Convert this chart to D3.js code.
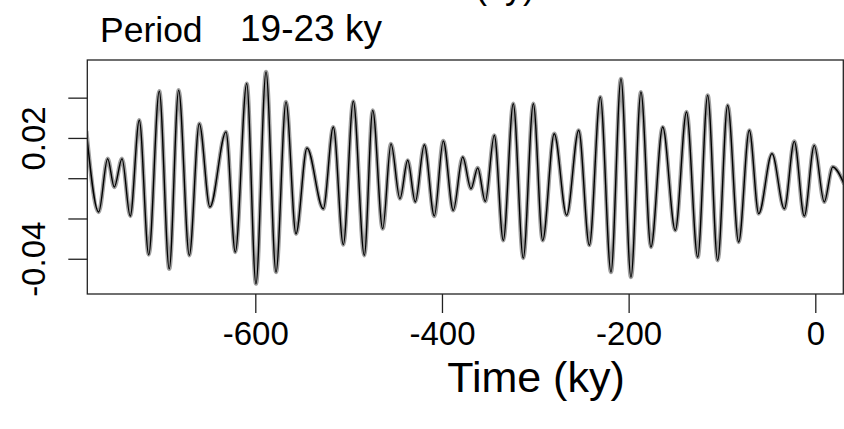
<!DOCTYPE html>
<html>
<head>
<meta charset="utf-8">
<script src="https://cdnjs.cloudflare.com/ajax/libs/d3/7.8.5/d3.min.js"></script>
<style>
  body { margin: 0; background: #fff; }
  text { font-family: "Liberation Sans", Arial, sans-serif; fill: #000; }
</style>
</head>
<body>
<svg width="844" height="429"></svg>
<script>
// peaks and troughs of the 19-23 ky band (time in ky)
const time = [-781, -767.8, -758.2, -751.1, -742.8, -734.0, -724.3, -714.2, -702.9, -692.2,
  -682.1, -670.7, -660.0, -648.6, -631.4, -621.4, -609.2, -599.3, -588.5, -577.8,
  -567.1, -556.4, -544.6, -527.2, -516.4, -505.7, -495.0, -483.2, -474.2, -463.5,
  -454.6, -445.0, -436.7, -428.6, -418.9, -408.2, -398.6, -387.9, -377.8, -368.9,
  -361.7, -353.6, -343.9, -334.3, -323.6, -312.9, -302.1, -292.1, -279.7, -266.4,
  -253.5, -242.1, -230.4, -218.9, -208.2, -197.5, -186.8, -176.1, -163.5, -150.0,
  -138.0, -126.0, -115.3, -104.6, -93.9, -82.1, -70.7, -60.6, -46.4, -33.2,
  -22.5, -11.8, -1.1, 9.6, 18.6, 31];
const value = [0.0235, -0.0168, 0.0097, -0.0044, 0.0097, -0.0188, 0.0288, -0.0380, 0.0432, -0.0450,
  0.0437, -0.0383, 0.0271, -0.0143, 0.0230, -0.0367, 0.0470, -0.0524, 0.0528, -0.0466,
  0.0379, -0.0276, 0.0150, -0.0152, 0.0254, -0.0330, 0.0382, -0.0383, 0.0337, -0.0251,
  0.0171, -0.0102, 0.0089, -0.0118, 0.0166, -0.0188, 0.0185, -0.0160, 0.0105, -0.0052,
  0.0051, -0.0115, 0.0213, -0.0309, 0.0370, -0.0397, 0.0370, -0.0309, 0.0221, -0.0184,
  0.0238, -0.0333, 0.0403, -0.0466, 0.0494, -0.0491, 0.0428, -0.0342, 0.0254, -0.0259,
  0.0329, -0.0392, 0.0412, -0.0408, 0.0362, -0.0317, 0.0238, -0.0176, 0.0122, -0.0152,
  0.0183, -0.0188, 0.0163, -0.0118, 0.0056, -0.0030];

const xTicks = [-600, -400, -200, 0];
const yTicks = [0.04, 0.02, 0, -0.02, -0.04];
const yLabelled = [0.02, -0.04]; // the other labels are dropped in the original (overlap)

const svg = d3.select("svg");
const plot = { left: 87.3, right: 843.3, top: 60, bottom: 294 };

const x = d3.scaleLinear().domain([-780, 30]).range([plot.left, plot.right]);
const y = d3.scaleLinear().domain([-0.0575, 0.0587]).range([plot.bottom, plot.top]);

const hyphen = s => s.replace("\u2212", "-");

// cut-off text from the panel above
svg.append("text")
  .attr("x", 505).attr("y", -2)
  .attr("text-anchor", "middle")
  .attr("font-size", 36)
  .text("(ky)");

// panel heading
svg.append("text").attr("x", 100).attr("y", 42).attr("font-size", 35.5).text("Period");
svg.append("text").attr("x", 240).attr("y", 41).attr("font-size", 37).text("19-23 ky");

svg.append("clipPath").attr("id", "clip")
  .append("rect")
  .attr("x", plot.left).attr("y", plot.top)
  .attr("width", plot.right - plot.left).attr("height", plot.bottom - plot.top);

const pts = time.map((t, i) => [t, value[i]]);
const line = d3.line()
  .x(d => x(d[0]))
  .y(d => y(d[1]))
  .curve(d3.curveMonotoneX);

const g = svg.append("g").attr("clip-path", "url(#clip)");
g.append("path")
  .attr("d", line(pts))
  .attr("fill", "none")
  .attr("stroke", "#a0a0a0")
  .attr("stroke-width", 4.2);
g.append("path")
  .attr("d", line(pts))
  .attr("fill", "none")
  .attr("stroke", "#000")
  .attr("stroke-width", 1.4);

// box
svg.append("rect")
  .attr("x", plot.left).attr("y", plot.top)
  .attr("width", plot.right - plot.left).attr("height", plot.bottom - plot.top)
  .attr("fill", "none").attr("stroke", "#222").attr("stroke-width", 1.3);

// x axis
const xAxis = svg.append("g")
  .attr("transform", `translate(0,${plot.bottom})`)
  .call(d3.axisBottom(x).tickValues(xTicks).tickSize(19).tickPadding(9)
    .tickFormat(d => hyphen(d3.format("d")(d))));
xAxis.select(".domain").remove();
xAxis.selectAll("line").attr("stroke", "#222").attr("stroke-width", 1.3);
xAxis.selectAll("text").attr("font-size", 33).attr("font-family", "Liberation Sans, Arial, sans-serif");

// y axis
const yAxis = svg.append("g")
  .attr("transform", `translate(${plot.left},0)`)
  .call(d3.axisLeft(y).tickValues(yTicks).tickSize(19)
    .tickFormat(d => yLabelled.includes(d) ? hyphen(d3.format(".2f")(d)) : ""));
yAxis.select(".domain").remove();
yAxis.selectAll("line").attr("stroke", "#222").attr("stroke-width", 1.3);
yAxis.selectAll("text")
  .attr("font-size", 33)
  .attr("font-family", "Liberation Sans, Arial, sans-serif")
  .attr("text-anchor", "middle")
  .attr("dy", 0)
  .attr("x", 0)
  .attr("transform", `translate(${45 - plot.left},0) rotate(-90)`);

// axis title
svg.append("text")
  .attr("x", 536)
  .attr("y", 392)
  .attr("text-anchor", "middle")
  .attr("font-size", 43)
  .text("Time (ky)");
</script>
</body>
</html>
